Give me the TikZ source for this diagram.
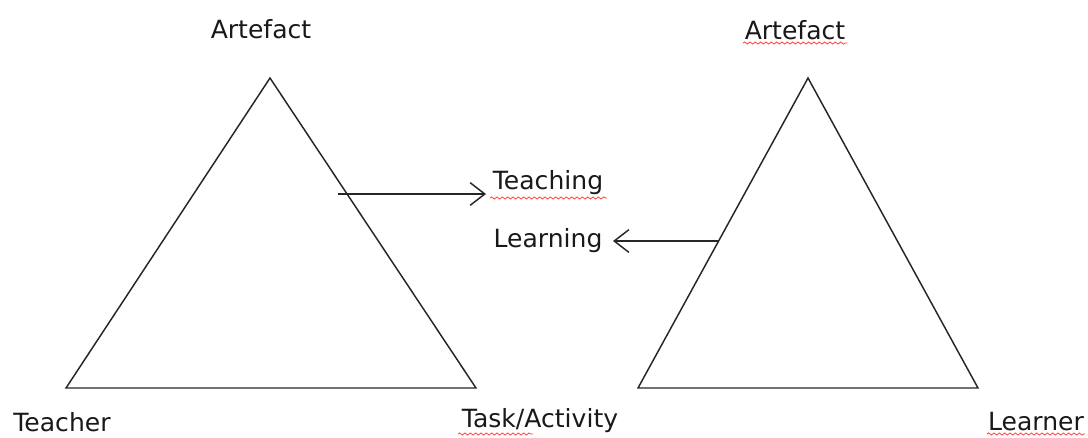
\documentclass[tikz,border=0pt]{standalone}
\usepackage{fontspec}
\setmainfont{DejaVu Sans}
\usetikzlibrary{arrows.meta,decorations.pathmorphing}
\begin{document}
\begin{tikzpicture}[x=0.75pt,y=-0.75pt,
  edge/.style={line width=1.1pt,black!85},
  arr/.style={line width=1.1pt,black!85,-{Straight Barb[length=11pt,width=17pt,line width=1.1pt]}},
  lbl/.style={inner sep=0pt,font=\fontsize{18.8pt}{22pt}\selectfont,text=black!90},
  squig/.style={red!75,line width=0.6pt,decorate,decoration={snake,segment length=4pt,amplitude=0.8pt}}]
\useasboundingbox (0,0) rectangle (1088,437);
% left triangle
\coordinate (LA) at (270,78);
\coordinate (LB) at (66,388);
\coordinate (LC) at (476,388);
\draw[edge] (LA) -- (LB) -- (LC) -- cycle;
% right triangle
\coordinate (RA) at (808,78);
\coordinate (RB) at (638,388);
\coordinate (RC) at (978,388);
\draw[edge] (RA) -- (RB) -- (RC) -- cycle;
% labels
\node[lbl] (art1) at (261,29) {Artefact};
\node[lbl] (art2) at (795,30) {Artefact};
\node[lbl] (teacher) at (62,422) {Teacher};
\node[lbl] (task) at (540,421) {Task/Activity};
\node[lbl] (learner) at (1036,422) {Learner};
\node[lbl] (teaching) at (548,183) {Teaching};
\node[lbl] (learning) at (548,241) {Learning};
% arrows
\coordinate (ts) at (338,194);
\coordinate (te) at (486,194);
\coordinate (ls) at (718,241);
\coordinate (le) at (613,241);
\draw[arr] (ts) -- (te);
\draw[arr] (ls) -- (le);
% spell-check underlines
\draw[squig] (743,43) -- (847,43);
\draw[squig] (490,198) -- (607,198);
\draw[squig] (458,434) -- (533,434);
\draw[squig] (987,434) -- (1085,434);
\end{tikzpicture}
\end{document}
